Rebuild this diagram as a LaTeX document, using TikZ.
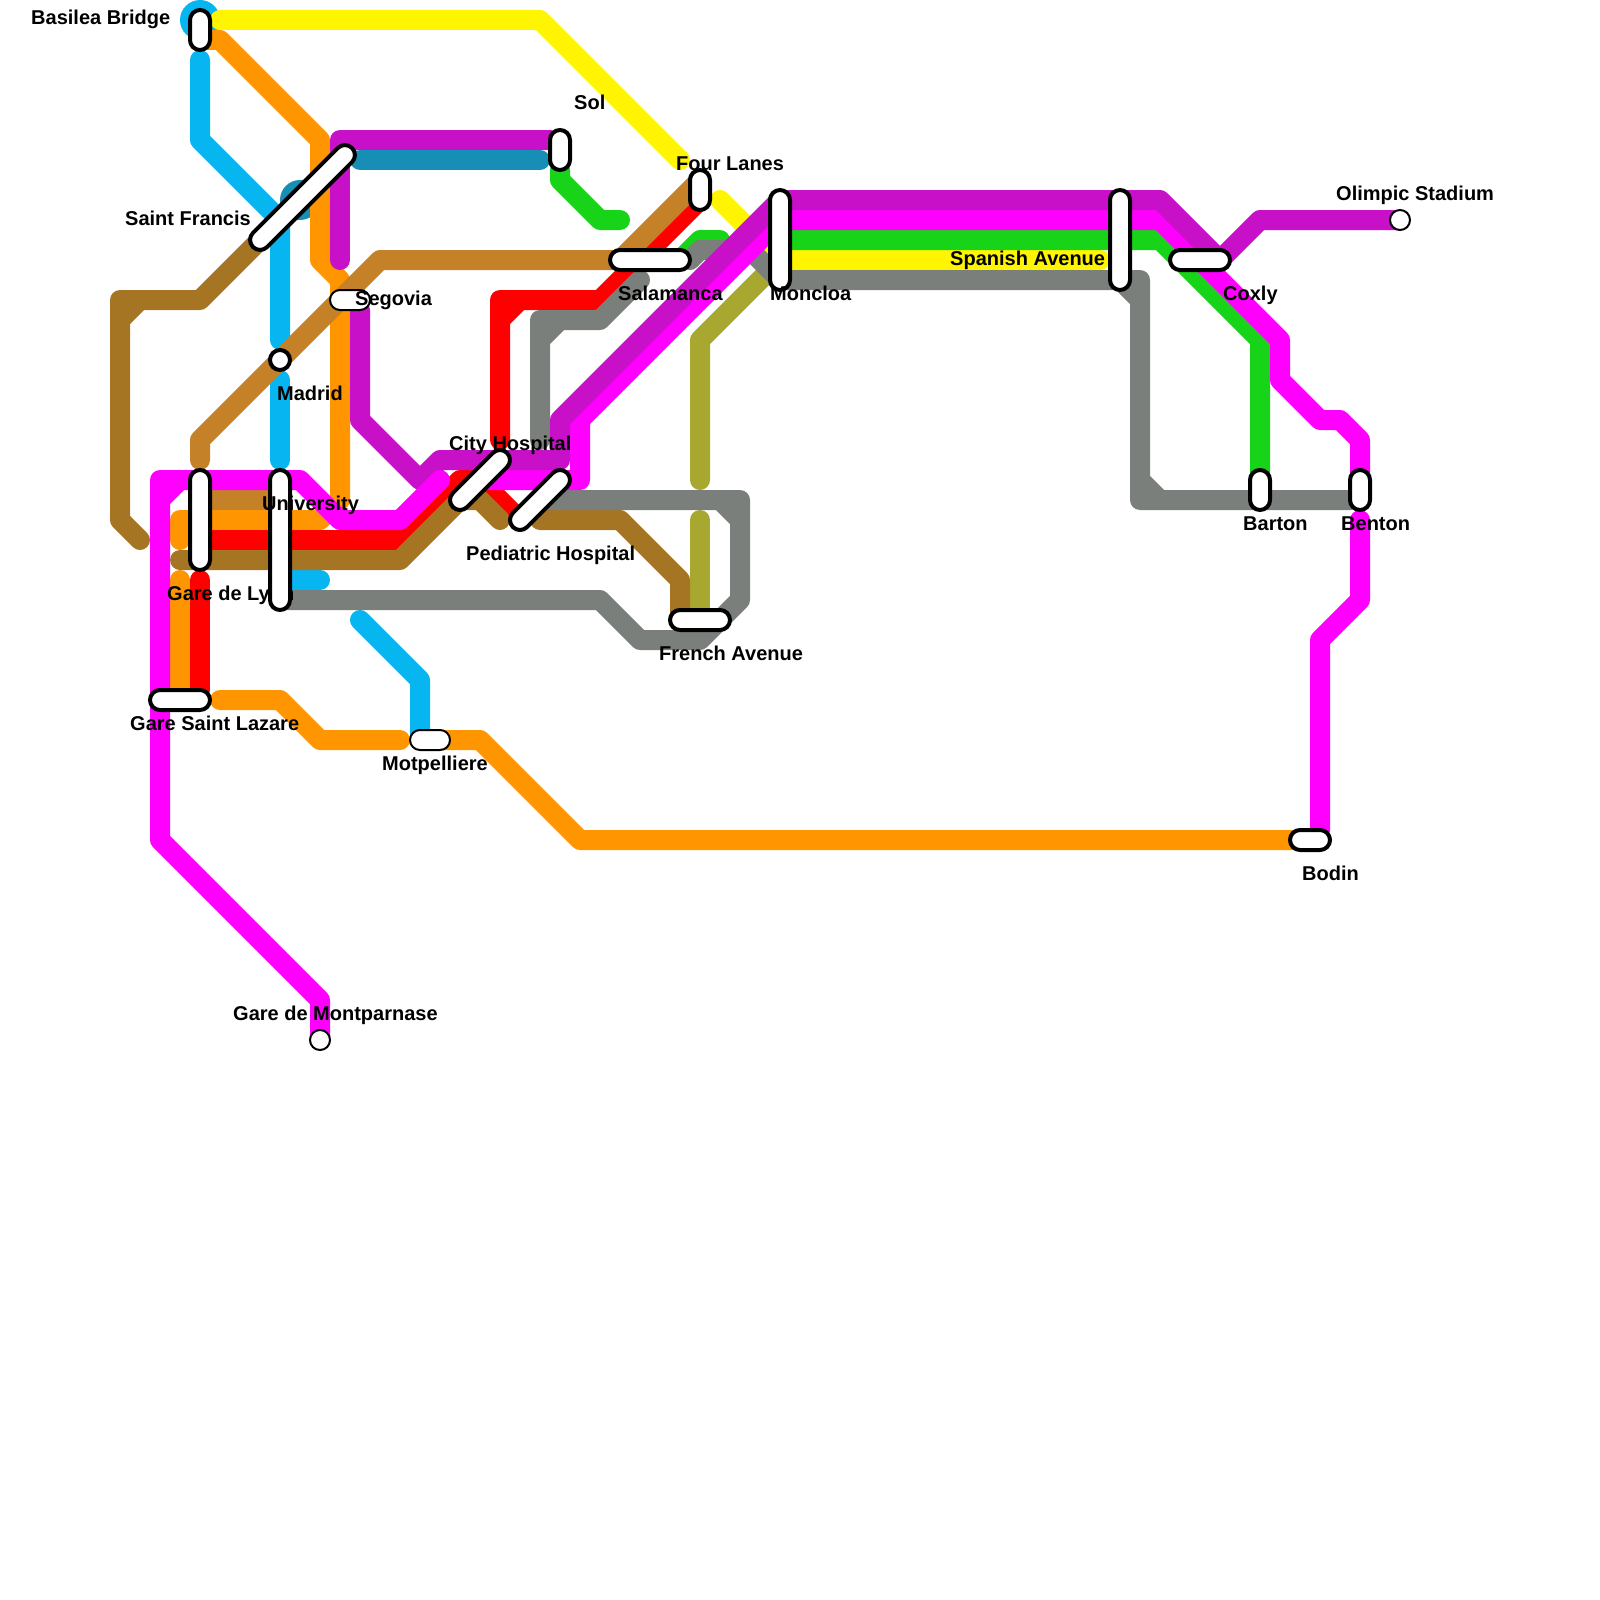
\documentclass[tikz,border=0pt]{standalone}
\usepackage{fontspec}
\setmainfont{Liberation Sans}
\usetikzlibrary{backgrounds}
\definecolor{cyanline}{RGB}{7,181,240}
\definecolor{orangeline}{RGB}{255,149,0}
\definecolor{yellowline}{RGB}{255,245,0}
\definecolor{tealline}{RGB}{23,142,181}
\definecolor{greenline}{RGB}{24,212,24}
\definecolor{oliveline}{RGB}{168,168,48}
\definecolor{redline}{RGB}{255,0,0}
\definecolor{darkbrownline}{RGB}{166,117,36}
\definecolor{lightbrownline}{RGB}{196,129,40}
\definecolor{grayline}{RGB}{123,127,123}
\definecolor{magentaline}{RGB}{255,0,255}
\definecolor{purpleline}{RGB}{200,16,200}

\begin{document}
\begin{tikzpicture}[
    x=1pt, y=-1pt,
    stationnode/.style={rectangle, rounded corners=10pt, draw=black, fill=white, line width=4pt, minimum width=40pt, minimum height=20pt, inner sep=0pt},
    thinstation/.style={stationnode, line width=2pt},
    stopnode/.style={circle, draw=black, fill=white, line width=4pt, minimum size=20pt, inner sep=0pt},
    thinstop/.style={stopnode, line width=2pt},
    labelnode/.style={anchor=base west, inner sep=0pt, font=\fontsize{20}{24}\selectfont\bfseries},
    dotnode/.style={circle, minimum size=40pt, inner sep=0pt},
    metro/.style={line width=20pt, line join=round, line cap=round}
]
\useasboundingbox (0,0) rectangle (1600,1600);

% Stations with their names
\node[stationnode, rotate=90] (basilea) at (200,30) {};
\node[labelnode] (basilea-label) at (31,25) {Basilea Bridge};
\node[stationnode, rotate=45, minimum width=140pt] (saintfrancis) at (302.5,197.5) {};
\node[labelnode] (saintfrancis-label) at (125,225) {Saint Francis};
\node[thinstation] (segovia) at (350,300) {};
\node[labelnode] (segovia-label) at (355,305) {Segovia};
\node[stopnode] (madrid) at (280,360) {};
\node[labelnode] (madrid-label) at (277,400) {Madrid};
\node[stationnode, rotate=90, minimum width=100pt] (garelyon) at (200,520) {};
\node[labelnode] (garelyon-label) at (167,600) {Gare de Lyon};
\node[stationnode, rotate=90, minimum width=140pt] (university) at (280,540) {};
\node[labelnode] (university-label) at (262,510) {University};
\node[stationnode, minimum width=60pt] (garesaintlazare) at (180,700) {};
\node[labelnode] (garesaintlazare-label) at (130,730) {Gare Saint Lazare};
\node[thinstation] (motpelliere) at (430,740) {};
\node[labelnode] (motpelliere-label) at (382,770) {Motpelliere};
\node[stationnode, rotate=45, minimum width=76.6pt] (cityhospital) at (480,480) {};
\node[labelnode] (cityhospital-label) at (449,450) {City Hospital};
\node[stationnode, rotate=45, minimum width=76.6pt] (pediatric) at (540,500) {};
\node[labelnode] (pediatric-label) at (466,560) {Pediatric Hospital};
\node[stationnode, rotate=90] (sol) at (560,150) {};
\node[labelnode] (sol-label) at (574,110) {Sol};
\node[stationnode, rotate=90] (fourlanes) at (700,190) {};
\node[labelnode] (fourlanes-label) at (676,170) {Four Lanes};
\node[stationnode, minimum width=80pt] (salamanca) at (650,260) {};
\node[labelnode] (salamanca-label) at (618,300) {Salamanca};
\node[stationnode, rotate=90, minimum width=100pt] (moncloa) at (780,240) {};
\node[labelnode] (moncloa-label) at (770,300) {Moncloa};
\node[stationnode, rotate=90, minimum width=100pt] (spanishave) at (1120,240) {};
\node[labelnode] (spanishave-label) at (950,265) {Spanish Avenue};
\node[stationnode, minimum width=60pt] (frenchave) at (700,620) {};
\node[labelnode] (frenchave-label) at (659,660) {French Avenue};
\node[stationnode, minimum width=60pt] (coxly) at (1200,260) {};
\node[labelnode] (coxly-label) at (1223,300) {Coxly};
\node[stationnode, rotate=90] (barton) at (1260,490) {};
\node[labelnode] (barton-label) at (1243,530) {Barton};
\node[stationnode, rotate=90] (benton) at (1360,490) {};
\node[labelnode] (benton-label) at (1341,530) {Benton};
\node[stationnode] (bodin) at (1310,840) {};
\node[labelnode] (bodin-label) at (1302,880) {Bodin};
\node[thinstop] (olimpic) at (1400,220) {};
\node[labelnode] (olimpic-label) at (1336,200) {Olimpic Stadium};
\node[thinstop] (montparnase) at (320,1040) {};
\node[labelnode] (montparnase-label) at (233,1020) {Gare de Montparnase};

% Lines, lowest first
\begin{scope}[on background layer]
    \node[dotnode, fill=tealline] (francis-dot) at (300,200) {};
    \node[dotnode, fill=cyanline] (basilea-dot) at (200,20) {};

    % Cyan
    \draw[metro, cyanline] (200,60) -- (200,140) -- (280,220) -- (280,340);
    \draw[metro, cyanline] (280,380) -- (280,460);
    \draw[metro, cyanline] (280,580) -- (320,580);
    \draw[metro, cyanline] (360,620) -- (420,680) -- (420,740);

    % Orange
    \draw[metro, orangeline] (200,40) -- (220,40) -- (320,140) -- (320,260) -- (340,280) -- (340,500) -- (320,520) -- (180,520) -- (180,540);
    \draw[metro, orangeline] (180,580) -- (garesaintlazare.center);
    \draw[metro, orangeline] (220,700) -- (280,700) -- (320,740) -- (400,740);
    \draw[metro, orangeline] (motpelliere.center) -- (480,740) -- (580,840) -- (bodin.center);

    % Yellow
    \draw[metro, yellowline] (220,20) -- (540,20) -- (680,160);
    \draw[metro, yellowline] (720,200) -- (780,260) -- (1100,260);

    % Teal
    \draw[metro, tealline] (360,160) -- (540,160);

    % Green
    \draw[metro, greenline] (560,170) -- (560,180) -- (600,220) -- (620,220);
    \draw[metro, greenline] (680,260) -- (700,240) -- (720,240);
    \draw[metro, greenline] (790,240) -- (1160,240) -- (1260,340) -- (barton.center);

    % Olive
    \draw[metro, oliveline] (700,480) -- (700,340) -- (780,260);
    \draw[metro, oliveline] (700,520) -- (frenchave.center);

    % Red
    \draw[metro, redline] (200,540) -- (400,540) -- (460,480) -- (480,480) -- (520,520);
    \draw[metro, redline] (500,440) -- (500,300) -- (600,300) -- (700,200) (500,320) -- (520,300);
    \draw[metro, redline] (200,580) -- (200,690);

    % Browns
    \draw[metro, darkbrownline] (140,540) -- (120,520) -- (120,300) -- (200,300) -- (260,240) (120,320) -- (140,300);
    \draw[metro, darkbrownline] (180,560) -- (400,560) -- (460,500) -- (480,500) -- (500,520);
    \draw[metro, darkbrownline] (540,520) -- (620,520) -- (680,580) -- (680,620);
    \draw[metro, lightbrownline] (200,460) -- (200,440) -- (380,260) -- (620,260) -- (700,180);
    \draw[metro, lightbrownline] (200,500) -- (280,500);

    % Gray
    \draw[metro, grayline] (280,600) -- (600,600) -- (640,640) -- (700,640) -- (740,600) -- (740,500) -- (pediatric.center) (720,500) -- (740,520);
    \draw[metro, grayline] (540,440) -- (540,320) -- (600,320) -- (640,280) (540,340) -- (560,320);
    \draw[metro, grayline] (690,260) -- (700,250) -- (750,250) -- (780,280) -- (1140,280) -- (1140,500) -- (1350,500) (1120,280) -- (1140,300) (1140,480) -- (1160,500);

    % Magenta, right part
    \draw[metro, magentaline] (490,480) -- (580,480) -- (580,420) -- (780,220) -- (1160,220) -- (1280,340) -- (1280,380) -- (1320,420) -- (1340,420) -- (1360,440) -- (benton.center);
    \draw[metro, magentaline] (1360,520) -- (1360,600) -- (1320,640) -- (1320,830);

    % Purple
    \draw[metro, purpleline] (340,260) -- (340,140) -- (550,140);
    \draw[metro, purpleline] (360,310) -- (360,420) -- (420,480) -- (440,460) -- (560,460) -- (560,420) -- (780,200) -- (1160,200) -- (1220,260) -- (1260,220) -- (olimpic.center);

    % Magenta, left part
    \draw[metro, magentaline] (montparnase.center) -- (320,1000) -- (160,840) -- (160,480) -- (300,480) -- (340,520) -- (400,520) -- (440,480) (160,500) -- (180,480);
\end{scope}

\end{tikzpicture}
\end{document}
